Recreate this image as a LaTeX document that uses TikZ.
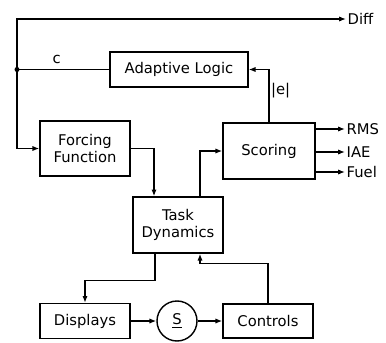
\documentclass[tikz,border=0pt]{standalone}
\usepackage{fontspec}
\setmainfont{DejaVu Sans}
\usetikzlibrary{arrows.meta,calc}
\tikzset{blk/.style={draw,line width=1pt,minimum width=22.5mm,minimum height=13.75mm,align=center,font=\fontsize{10.5}{12.5}\selectfont,inner sep=0pt}, sig/.style={-{Latex[length=1.7mm,width=1.3mm]},line width=0.9pt}, wire/.style={line width=0.9pt}, outlbl/.style={anchor=west,inner sep=1pt,font=\fontsize{10.5}{12.5}\selectfont}}

\begin{document}
\begin{tikzpicture}[x=0.25mm,y=-0.25mm]
\useasboundingbox (0,0) rectangle (386,342);
\node[blk,minimum width=34.5mm,minimum height=8.75mm] (adapt) at (179,69.5) {Adaptive Logic};
\node[blk] (forcing) at (85,148.5) {Forcing\\Function};
\node[blk,minimum width=23mm,minimum height=14mm] (scoring) at (269,151) {Scoring};
\node[blk,minimum height=14mm] (task) at (178,225) {Task\\Dynamics};
\node[blk,minimum height=8.75mm] (disp) at (85,321) {Displays};
\node[draw,circle,line width=1pt,minimum size=10mm,inner sep=0pt,font=\fontsize{10.5}{12.5}\selectfont] (sum) at (177,321) {\underline{S}};
\node[blk,minimum height=8.5mm] (ctrl) at (268,321) {Controls};
\node[outlbl] (diff) at (346,19) {Diff};
\node[outlbl] (rms) at (345,129) {RMS};
\node[outlbl] (iae) at (345,152) {IAE};
\node[outlbl] (fuel) at (345,172) {Fuel};
\coordinate (jn) at (17,69.5);
\coordinate (corner) at (17,19);
% loop from adaptive logic
\draw[wire] (adapt.west) -- node[above,pos=0.57,font=\fontsize{10.5}{12.5}\selectfont]{c} (jn);
\fill (jn) circle (2.5);
\draw[sig] (jn) |- (forcing.west);
\draw[sig] (jn) -- (corner) -- (diff.west);
\draw[sig] (scoring.north) |- node[pos=0.3,right,inner sep=1pt,font=\fontsize{10.5}{12.5}\selectfont]{|e|} (adapt.east);
% plant loop
\draw[sig] (forcing.east) -| ($(task.north)+(-24,0)$);
\draw[sig] ($(task.north)+(22,0)$) |- (scoring.west);
\draw[sig] (scoring.east |- rms.west) -- (rms.west);
\draw[sig] (scoring.east |- iae.west) -- (iae.west);
\draw[sig] (scoring.east |- fuel.west) -- (fuel.west);
\draw[sig] ($(task.south)+(-23,0)$) -- ++(0,27) -| (disp.north);
\draw[sig] (disp.east) -- (sum.west);
\draw[sig] (sum.east) -- (ctrl.west);
\draw[sig] (ctrl.north) -- ++(0,-40) -| ($(task.south)+(22,0)$);
\end{tikzpicture}
\end{document}
